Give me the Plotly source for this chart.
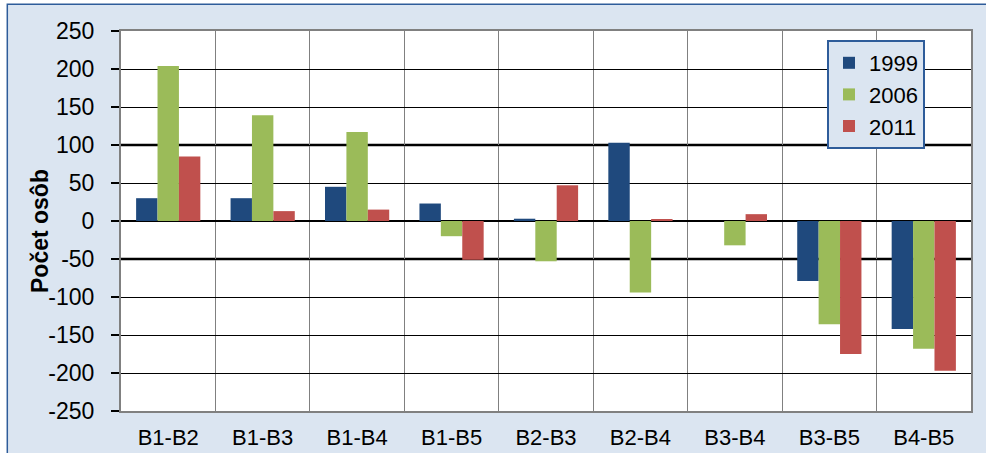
import plotly.graph_objects as go

categories = ["B1-B2", "B1-B3", "B1-B4", "B1-B5", "B2-B3", "B2-B4", "B3-B4", "B3-B5", "B4-B5"]
v1999 = [30, 30, 45, 23, 3, 103, 0, -79, -142]
v2006 = [204, 139, 117, -20, -53, -94, -32, -136, -168]
v2011 = [85, 13, 15, -51, 47, 2, 9, -175, -197]
series_names = ["1999", "2006", "2011"]
colors = ["#1f497d", "#9bbb59", "#c0504d"]
y_tickvals = [250, 200, 150, 100, 50, 0, -50, -100, -150, -200, -250]
y_ticktext = ["250", "200", "150", "100", "50", "0", "-50", "-100", "-150", "-200", "-250"]

FONT = "Liberation Sans, Arial, sans-serif"
W, H = 986, 453
ML, MR, MT, MB = 121, 15, 31, 42
PW, PH = W - ML - MR, H - MT - MB

def px_x(p):
    return (p - ML) / PW

def px_y(p):
    return (H - MB - p) / PH

fig = go.Figure()
for name, vals, c in zip(series_names, [v1999, v2006, v2011], colors):
    fig.add_trace(go.Bar(x=categories, y=vals, name=name, marker=dict(color=c, line=dict(width=0))))

shapes = [
    dict(type="rect", xref="paper", yref="paper", x0=px_x(-5), x1=px_x(7), y0=px_y(470), y1=px_y(-5),
         fillcolor="white", line=dict(width=0), layer="above"),
    dict(type="rect", xref="paper", yref="paper", x0=px_x(-5), x1=px_x(995), y0=px_y(4), y1=px_y(-5),
         fillcolor="white", line=dict(width=0), layer="above"),
    dict(type="path", xref="paper", yref="paper",
         path=f"M{px_x(7.3)},{px_y(470)} L{px_x(7.3)},{px_y(4.3)} L{px_x(995)},{px_y(4.3)}",
         line=dict(color="#2e5c9a", width=1.5), layer="above"),
]
for yv in [100, -50]:
    shapes.append(dict(type="line", xref="x domain", yref="y", x0=0, x1=1, y0=yv, y1=yv,
                       line=dict(color="black", width=2.5), layer="below"))

fig.update_layout(
    width=W, height=H,
    margin=dict(l=ML, r=MR, t=MT, b=MB, pad=0),
    paper_bgcolor="#dbe5f1",
    plot_bgcolor="white",
    barmode="group", bargap=0.32, bargroupgap=0,
    font=dict(family=FONT, size=22, color="black"),
    shapes=shapes,
    showlegend=True,
    legend=dict(x=px_x(827), y=px_y(40), xanchor="left", yanchor="top",
                bgcolor="#dbe5f1", bordercolor="#2e5c9a", borderwidth=2,
                font=dict(family=FONT, size=22, color="black"),
                itemwidth=30, tracegroupgap=0),
    annotations=[dict(text="<b>Počet osôb</b>", xref="paper", yref="paper", x=px_x(40), y=px_y(231),
                      textangle=-90, showarrow=False, font=dict(family=FONT, size=23, color="black"),
                      xanchor="center", yanchor="middle")],
)
fig.update_xaxes(
    type="category", tickson="boundaries", showgrid=True, gridcolor="#808080", gridwidth=1,
    ticks="", showline=True, linecolor="#808080", linewidth=2, mirror=True,
    tickfont=dict(family=FONT, size=22, color="black"), ticklabelstandoff=6, automargin=False,
)
fig.update_yaxes(
    range=[-250, 250], tickmode="array", tickvals=y_tickvals, ticktext=y_ticktext,
    showgrid=True, gridcolor="black", gridwidth=1,
    zeroline=True, zerolinecolor="black", zerolinewidth=1.5,
    ticks="outside", ticklen=8, tickcolor="black", tickwidth=1.5,
    showline=True, linecolor="#808080", linewidth=2, mirror=True,
    tickfont=dict(family=FONT, size=23, color="black"), ticklabelstandoff=12, automargin=False,
)

fig.write_html("out.html", config={"displayModeBar": False},
               post_script="document.body.style.margin='0';document.body.style.padding='0';document.body.style.overflow='hidden';")
